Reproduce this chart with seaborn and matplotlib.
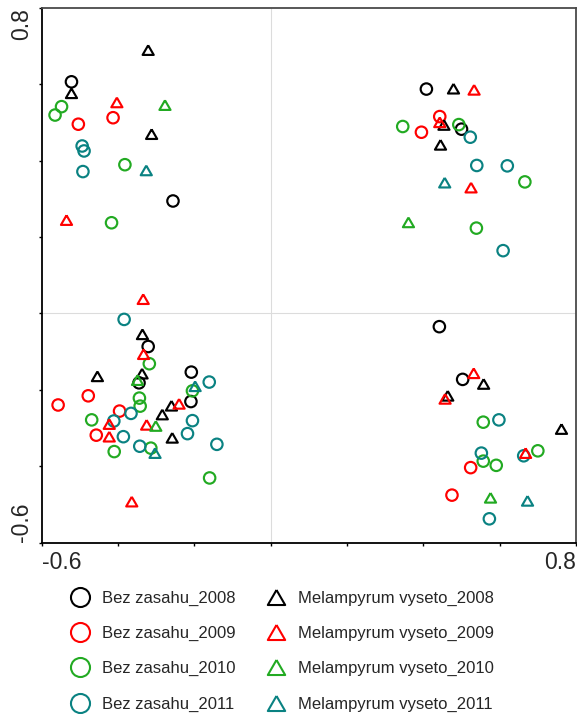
import numpy as np
import pandas as pd
import seaborn as sns
import matplotlib
matplotlib.use("Agg")
import matplotlib.pyplot as plt
from matplotlib.lines import Line2D

# ---------------- data ----------------
bez_2008_x = [-0.522, -0.256, 0.408, 0.500, 0.442, 0.503, -0.321, -0.345, -0.208, -0.209]
bez_2008_y = [0.606, 0.294, 0.587, 0.482, -0.035, -0.173, -0.087, -0.182, -0.154, -0.231]

bez_2009_x = [-0.504, -0.413, 0.443, 0.395, -0.478, -0.557, -0.396, -0.457, 0.524, 0.475]
bez_2009_y = [0.495, 0.512, 0.515, 0.474, -0.216, -0.240, -0.256, -0.319, -0.404, -0.476]

bez_2010_x = [-0.548, -0.565, -0.382, -0.417, 0.346, 0.493, 0.666, 0.539, -0.318, -0.205,
              -0.344, -0.342, -0.469, -0.410, -0.314, -0.160, 0.557, 0.557, 0.591, 0.700]
bez_2010_y = [0.541, 0.519, 0.389, 0.237, 0.489, 0.494, 0.344, 0.223, -0.132, -0.203,
              -0.222, -0.243, -0.279, -0.362, -0.353, -0.431, -0.285, -0.387, -0.398, -0.360]

bez_2011_x = [-0.494, -0.489, -0.492, 0.523, 0.540, 0.620, 0.609, -0.384, -0.161, -0.366,
              -0.411, -0.205, -0.386, -0.218, -0.343, -0.141, 0.598, 0.552, 0.663, 0.573]
bez_2011_y = [0.438, 0.425, 0.371, 0.461, 0.387, 0.386, 0.164, -0.016, -0.180, -0.262,
              -0.282, -0.281, -0.323, -0.315, -0.348, -0.343, -0.279, -0.366, -0.373, -0.538]

mel_2008_x = [-0.321, -0.522, -0.312, 0.479, 0.454, 0.445, 0.558, 0.464, 0.762, -0.336,
              -0.454, -0.337, -0.260, -0.284, -0.258]
mel_2008_y = [0.689, 0.576, 0.469, 0.588, 0.493, 0.441, -0.185, -0.216, -0.303, -0.055,
              -0.165, -0.158, -0.242, -0.265, -0.326]

mel_2009_x = [-0.403, -0.535, 0.533, 0.443, 0.525, 0.532, 0.457, 0.668, -0.334, -0.333,
              -0.240, -0.423, -0.325, -0.423, -0.364]
mel_2009_y = [0.552, 0.244, 0.585, 0.500, 0.329, -0.157, -0.224, -0.366, 0.037, -0.107,
              -0.237, -0.290, -0.292, -0.323, -0.493]

mel_2010_x = [-0.277, 0.361, 0.576, -0.349, -0.301]
mel_2010_y = [0.545, 0.238, -0.483, -0.175, -0.295]

mel_2011_x = [-0.326, 0.456, 0.673, -0.198, -0.303]
mel_2011_y = [0.374, 0.342, -0.491, -0.191, -0.366]

group_labels = ["Bez zasahu_2008", "Bez zasahu_2009", "Bez zasahu_2010", "Bez zasahu_2011",
                "Melampyrum vyseto_2008", "Melampyrum vyseto_2009",
                "Melampyrum vyseto_2010", "Melampyrum vyseto_2011"]
group_x = [bez_2008_x, bez_2009_x, bez_2010_x, bez_2011_x,
           mel_2008_x, mel_2009_x, mel_2010_x, mel_2011_x]
group_y = [bez_2008_y, bez_2009_y, bez_2010_y, bez_2011_y,
           mel_2008_y, mel_2009_y, mel_2010_y, mel_2011_y]

x_ticks = [-0.6, -0.4, -0.2, 0.0, 0.2, 0.4, 0.6, 0.8]
x_tick_labels = ["-0.6", "", "", "", "", "", "", "0.8"]
y_ticks = [-0.6, -0.4, -0.2, 0.0, 0.2, 0.4, 0.6, 0.8]
y_tick_labels = ["-0.6", "", "", "", "", "", "", "0.8"]

# ---------------- style ----------------
year_colors = ["#000000", "#ff0000", "#22aa22", "#0a8282"]
tri = [(0.0, 0.866), (-1.0, -0.866), (1.0, -0.866), (0.0, 0.866)]

rows = []
for lab, xs, ys in zip(group_labels, group_x, group_y):
    for a, b in zip(xs, ys):
        rows.append({"group": lab, "x": a, "y": b})
df = pd.DataFrame(rows)

sns.set_theme(style="white")
plt.rcParams["font.family"] = ["Liberation Sans", "DejaVu Sans"]

fig = plt.figure(figsize=(5.77, 7.14), dpi=100)
ax = fig.add_axes([41.7 / 577, 1 - 542.5 / 714, (576 - 41.7) / 577, (542.5 - 7.7) / 714])

ax.axvline(0, color="#dcdcdc", lw=0.8, zorder=0)
ax.axhline(0, color="#dcdcdc", lw=0.8, zorder=0)

for i, lab in enumerate(group_labels):
    col = year_colors[i % 4]
    sub = df[df["group"] == lab]
    if i < 4:
        sns.scatterplot(data=sub, x="x", y="y", ax=ax, marker="o", s=68,
                        color=col, facecolor="none", edgecolor=col, linewidth=1.55,
                        legend=False, zorder=3)
    else:
        sns.scatterplot(data=sub, x="x", y="y", ax=ax, marker=tri, s=64,
                        color=col, facecolor="none", edgecolor=col, linewidth=1.55,
                        legend=False, zorder=3)

ax.set_xlim(-0.6, 0.8)
ax.set_ylim(-0.6, 0.8)
ax.set_xlabel("")
ax.set_ylabel("")
ax.set_xticks(x_ticks)
ax.set_xticklabels(x_tick_labels, fontsize=16.5)
ax.set_yticks(y_ticks)
ax.set_yticklabels(y_tick_labels, fontsize=16.5, rotation=90)
ax.tick_params(axis="both", direction="out", length=2.5, width=1.0, color="black",
               bottom=True, left=True, top=False, right=False, pad=3.5)
xl = ax.get_xticklabels()
xl[0].set_ha("left")
xl[-1].set_ha("right")
yl = ax.get_yticklabels()
for t in yl:
    t.set_ha("right")
yl[0].set_va("bottom")
yl[-1].set_va("top")

for s in ["left", "bottom"]:
    ax.spines[s].set_color("black")
    ax.spines[s].set_linewidth(1.3)
for s in ["top", "right"]:
    ax.spines[s].set_color("#4a4a4a")
    ax.spines[s].set_linewidth(1.3)

handles = []
for i, lab in enumerate(group_labels):
    col = year_colors[i % 4]
    if i < 4:
        h = Line2D([], [], linestyle="none", marker="o", markersize=13.7,
                   markerfacecolor="none", markeredgecolor=col, markeredgewidth=1.5, label=lab)
    else:
        h = Line2D([], [], linestyle="none", marker=tri, markersize=12.5,
                   markerfacecolor="none", markeredgecolor=col, markeredgewidth=1.5, label=lab)
    handles.append(h)

fig.legend(handles=handles, loc="upper left", bbox_to_anchor=(69.6 / 577, 1 - 591 / 714),
           ncol=2, frameon=False, fontsize=12, handlelength=1.25, handletextpad=0.7,
           columnspacing=1.8, labelspacing=1.2, borderpad=0, borderaxespad=0)

fig.savefig("out.png", dpi=100)
